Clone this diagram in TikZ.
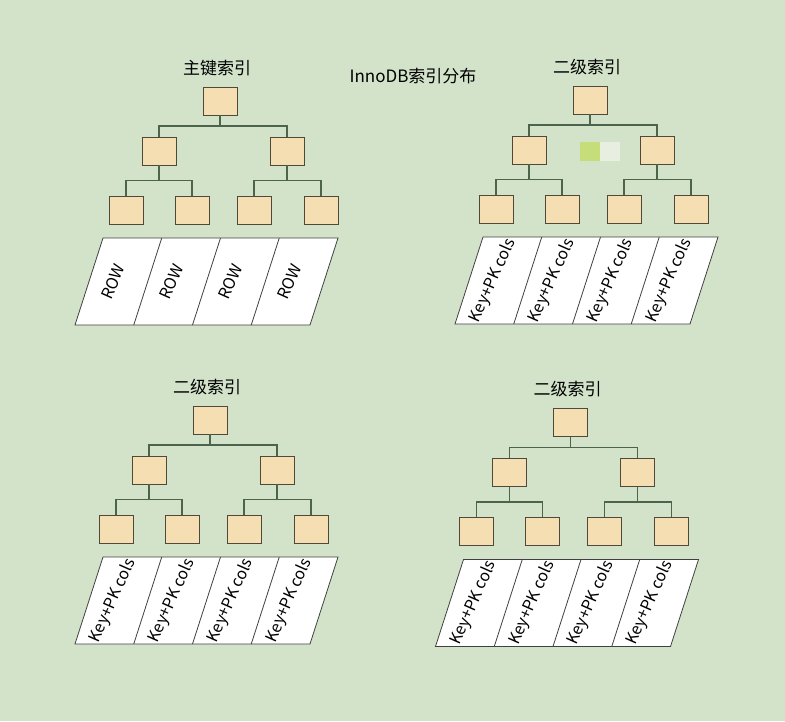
\documentclass[tikz,border=0pt]{standalone}
\usepackage{fontspec}
\setmainfont{Noto Sans CJK SC}
\usepackage{tikz}
\usetikzlibrary{calc,positioning}
\definecolor{bgGreen}{RGB}{210,227,202}
\definecolor{boxFill}{RGB}{245,222,178}
\definecolor{boxLine}{RGB}{80,72,56}
\definecolor{linkLine}{RGB}{75,100,75}
\definecolor{markGreen}{RGB}{197,222,122}
\definecolor{markWhite}{RGB}{232,238,224}

\tikzset{
  key/.style={draw=boxLine,fill=boxFill,line width=0.9pt,minimum width=34pt,minimum height=28pt,inner sep=0pt},
  link/.style={draw=linkLine,line width=1.1pt},
  leafrow/.style={draw=black!75,fill=white,line width=0.8pt},
  celltext/.style={rotate=66,inner sep=0pt,font=\fontsize{16}{18}\selectfont},
  title/.style={font=\fontsize{17}{20}\selectfont}
}

\begin{document}
\begin{tikzpicture}[x=1pt,y=-1pt]
            \useasboundingbox (0,0) rectangle (785,721);
            \fill[bgGreen] (0,0) rectangle (785,721);
            \node[title] (main-title) at (413,76) {InnoDB索引分布};
            % four trees: name / root x / root y / row shift / title / row text
            \foreach \t/\x/\y/\dx/\name/\cell in {a/220/101/-10/主键索引/ROW,
                b/590/100/0/二级索引/Key+PK cols,
                c/210/420/0/二级索引/Key+PK cols,
                d/570.5/422.5/0/二级索引/Key+PK cols}{
              \begin{scope}[shift={(\x,\y)}]
                \node[title] (\t-title) at (-3,-33) {\name};
                \node[key] (\t-root) at (0,0) {};
                \node[key] (\t-l) at (-61,50) {};
                \node[key] (\t-r) at (67,50) {};
                \node[key] (\t-ll) at (-94,109) {};
                \node[key] (\t-lr) at (-28,109) {};
                \node[key] (\t-rl) at (34,109) {};
                \node[key] (\t-rr) at (101,109) {};
                \foreach \p/\c in {root/l,root/r,l/ll,l/lr,r/rl,r/rr}
                  \draw[link] (\t-\p.south) |- ($(\t-\p.south)!.5!(\t-\c.north)$) -| (\t-\c.north);
                \draw[leafrow] (-107+\dx,137) -- (128+\dx,137) -- (100+\dx,224) -- (-135+\dx,224) -- cycle;
                \foreach \k in {1,2,3}
                  \draw[leafrow] (-107+\dx+58.75*\k,137) -- (-135+\dx+58.75*\k,224);
                \foreach \k in {0,...,3}
                  \node[celltext] (\t-cell\k) at (-97+\dx+58.75*\k,180.5) {\cell};
              \end{scope}
            }
            % leftover marks in the top right
            \fill[markGreen] (580,142) rectangle (600,161);
            \fill[markWhite] (600,142) rectangle (620,161);
        \end{tikzpicture}
\end{document}
